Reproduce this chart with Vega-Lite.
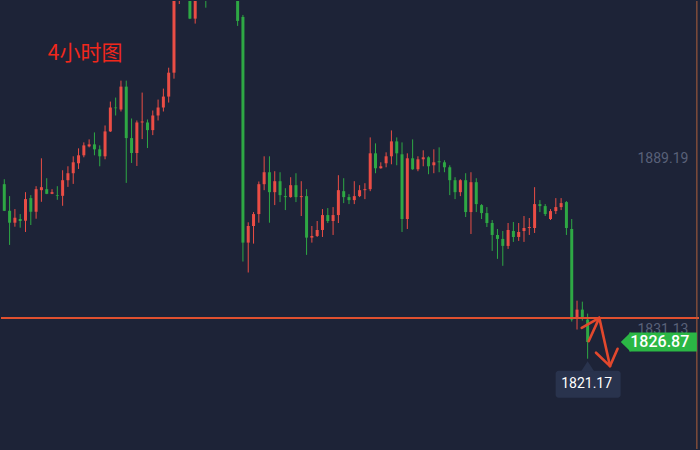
{
  "$schema": "https://vega.github.io/schema/vega-lite/v6.json",
  "width": 700,
  "height": 450,
  "padding": 0,
  "autosize": {"type": "fit", "contains": "padding"},
  "background": "#1d2337",
  "config": {"view": {"stroke": null}, "scale": {"continuousPadding": 0}},
  "datasets": {
    "candles": [
      {"i":0,"o":1880.70,"h":1882.40,"l":1871.53,"c":1871.63},
      {"i":1,"o":1871.63,"h":1876.63,"l":1859.99,"c":1867.56},
      {"i":2,"o":1867.56,"h":1872.21,"l":1866.20,"c":1869.26},
      {"i":3,"o":1868.82,"h":1870.51,"l":1865.86,"c":1868.14},
      {"i":4,"o":1868.24,"h":1877.98,"l":1864.40,"c":1875.61},
      {"i":5,"o":1875.95,"h":1876.97,"l":1866.78,"c":1871.30},
      {"i":6,"o":1871.30,"h":1880.02,"l":1868.92,"c":1879.00},
      {"i":7,"o":1878.66,"h":1889.53,"l":1874.69,"c":1879.68},
      {"i":8,"o":1879.00,"h":1882.74,"l":1877.30,"c":1877.41},
      {"i":9,"o":1877.41,"h":1879.00,"l":1877.30,"c":1877.98},
      {"i":10,"o":1876.97,"h":1880.02,"l":1875.37,"c":1876.73},
      {"i":11,"o":1876.73,"h":1885.45,"l":1873.33,"c":1882.06},
      {"i":12,"o":1882.06,"h":1886.81,"l":1879.78,"c":1884.44},
      {"i":13,"o":1884.44,"h":1890.21,"l":1880.80,"c":1888.17},
      {"i":14,"o":1887.83,"h":1892.93,"l":1885.90,"c":1890.55},
      {"i":15,"o":1890.55,"h":1894.96,"l":1889.87,"c":1893.94},
      {"i":16,"o":1893.60,"h":1895.98,"l":1893.26,"c":1894.28},
      {"i":17,"o":1894.28,"h":1898.36,"l":1890.55,"c":1892.59},
      {"i":18,"o":1892.59,"h":1893.94,"l":1886.81,"c":1890.21},
      {"i":19,"o":1890.21,"h":1900.73,"l":1889.19,"c":1898.70},
      {"i":20,"o":1898.70,"h":1908.88,"l":1898.50,"c":1906.85},
      {"i":21,"o":1906.85,"h":1910.24,"l":1904.13,"c":1906.61},
      {"i":22,"o":1906.17,"h":1916.02,"l":1905.49,"c":1913.98},
      {"i":23,"o":1913.98,"h":1916.02,"l":1881.14,"c":1896.42},
      {"i":24,"o":1896.42,"h":1903.11,"l":1887.93,"c":1891.33},
      {"i":25,"o":1891.33,"h":1902.43,"l":1886.92,"c":1901.75},
      {"i":26,"o":1901.75,"h":1911.94,"l":1896.08,"c":1902.09},
      {"i":27,"o":1901.75,"h":1902.77,"l":1893.03,"c":1899.14},
      {"i":28,"o":1899.14,"h":1905.83,"l":1897.44,"c":1904.13},
      {"i":29,"o":1904.13,"h":1909.56,"l":1902.43,"c":1906.85},
      {"i":30,"o":1906.85,"h":1913.30,"l":1905.49,"c":1910.58},
      {"i":31,"o":1910.58,"h":1920.43,"l":1908.54,"c":1918.73},
      {"i":32,"o":1918.73,"h":1953.00,"l":1916.69,"c":1950.50},
      {"i":33,"o":1946.00,"h":1955.00,"l":1942.16,"c":1952.00},
      {"i":34,"o":1957.00,"h":1959.00,"l":1947.00,"c":1950.00},
      {"i":35,"o":1950.00,"h":1952.00,"l":1937.00,"c":1937.17},
      {"i":36,"o":1937.17,"h":1951.00,"l":1935.47,"c":1948.00},
      {"i":37,"o":1948.00,"h":1956.00,"l":1945.00,"c":1953.00},
      {"i":38,"o":1952.00,"h":1955.00,"l":1940.90,"c":1944.00},
      {"i":39,"o":1945.00,"h":1958.00,"l":1944.00,"c":1955.00},
      {"i":40,"o":1955.00,"h":1963.00,"l":1952.00,"c":1960.00},
      {"i":41,"o":1960.00,"h":1964.00,"l":1953.00,"c":1956.00},
      {"i":42,"o":1956.00,"h":1959.00,"l":1949.00,"c":1952.00},
      {"i":43,"o":1952.00,"h":1955.00,"l":1946.00,"c":1949.00},
      {"i":44,"o":1949.00,"h":1952.00,"l":1934.69,"c":1936.39},
      {"i":45,"o":1937.75,"h":1938.43,"l":1854.32,"c":1860.77},
      {"i":46,"o":1860.77,"h":1867.70,"l":1850.58,"c":1866.44},
      {"i":47,"o":1866.44,"h":1871.19,"l":1860.43,"c":1870.51},
      {"i":48,"o":1870.51,"h":1881.62,"l":1867.56,"c":1880.70},
      {"i":49,"o":1880.70,"h":1890.21,"l":1878.66,"c":1884.78},
      {"i":50,"o":1884.78,"h":1890.21,"l":1867.56,"c":1877.98},
      {"i":51,"o":1877.98,"h":1885.12,"l":1873.57,"c":1881.72},
      {"i":52,"o":1881.72,"h":1884.78,"l":1874.59,"c":1876.97},
      {"i":53,"o":1876.63,"h":1879.34,"l":1871.87,"c":1876.29},
      {"i":54,"o":1876.29,"h":1883.08,"l":1876.10,"c":1880.36},
      {"i":55,"o":1880.36,"h":1884.44,"l":1874.59,"c":1876.29},
      {"i":56,"o":1876.29,"h":1881.72,"l":1869.84,"c":1876.63},
      {"i":57,"o":1876.63,"h":1879.00,"l":1856.59,"c":1862.47},
      {"i":58,"o":1862.47,"h":1866.44,"l":1860.77,"c":1863.04},
      {"i":59,"o":1863.04,"h":1868.14,"l":1862.70,"c":1865.08},
      {"i":60,"o":1865.08,"h":1872.21,"l":1862.70,"c":1870.17},
      {"i":61,"o":1870.17,"h":1872.55,"l":1867.46,"c":1868.14},
      {"i":62,"o":1868.14,"h":1872.89,"l":1863.38,"c":1870.17},
      {"i":63,"o":1870.17,"h":1883.76,"l":1867.46,"c":1878.66},
      {"i":64,"o":1878.32,"h":1882.74,"l":1874.25,"c":1876.29},
      {"i":65,"o":1876.29,"h":1877.31,"l":1873.91,"c":1875.27},
      {"i":66,"o":1875.27,"h":1881.72,"l":1873.91,"c":1876.63},
      {"i":67,"o":1876.63,"h":1880.36,"l":1876.29,"c":1878.66},
      {"i":68,"o":1878.66,"h":1881.04,"l":1875.61,"c":1879.00},
      {"i":69,"o":1879.00,"h":1896.66,"l":1878.32,"c":1891.23},
      {"i":70,"o":1891.23,"h":1894.62,"l":1884.44,"c":1886.13},
      {"i":71,"o":1886.13,"h":1888.17,"l":1886.00,"c":1886.81},
      {"i":72,"o":1887.83,"h":1891.57,"l":1886.47,"c":1890.21},
      {"i":73,"o":1890.21,"h":1899.04,"l":1887.49,"c":1895.30},
      {"i":74,"o":1895.30,"h":1896.66,"l":1887.15,"c":1891.23},
      {"i":75,"o":1890.89,"h":1894.96,"l":1864.40,"c":1868.82},
      {"i":76,"o":1868.82,"h":1891.23,"l":1865.42,"c":1889.53},
      {"i":77,"o":1889.53,"h":1895.98,"l":1885.60,"c":1885.79},
      {"i":78,"o":1885.79,"h":1890.21,"l":1885.12,"c":1889.19},
      {"i":79,"o":1889.19,"h":1892.25,"l":1886.81,"c":1889.87},
      {"i":80,"o":1889.87,"h":1890.21,"l":1884.10,"c":1886.81},
      {"i":81,"o":1887.15,"h":1892.59,"l":1884.44,"c":1888.17},
      {"i":82,"o":1888.51,"h":1893.26,"l":1884.78,"c":1888.17},
      {"i":83,"o":1888.17,"h":1888.85,"l":1884.78,"c":1886.47},
      {"i":84,"o":1886.47,"h":1887.15,"l":1876.97,"c":1882.06},
      {"i":85,"o":1882.06,"h":1883.08,"l":1875.61,"c":1877.98},
      {"i":86,"o":1877.98,"h":1882.40,"l":1876.63,"c":1882.06},
      {"i":87,"o":1882.06,"h":1884.44,"l":1869.50,"c":1871.19},
      {"i":88,"o":1871.19,"h":1884.78,"l":1863.72,"c":1881.38},
      {"i":89,"o":1881.38,"h":1882.74,"l":1871.19,"c":1873.91},
      {"i":90,"o":1873.57,"h":1873.91,"l":1868.82,"c":1870.85},
      {"i":91,"o":1870.85,"h":1872.89,"l":1866.10,"c":1867.46},
      {"i":92,"o":1867.46,"h":1868.48,"l":1857.95,"c":1863.38},
      {"i":93,"o":1863.38,"h":1865.42,"l":1855.23,"c":1862.03},
      {"i":94,"o":1862.03,"h":1864.74,"l":1852.86,"c":1859.65},
      {"i":95,"o":1859.65,"h":1867.46,"l":1858.63,"c":1865.08},
      {"i":96,"o":1864.74,"h":1867.80,"l":1861.01,"c":1862.70},
      {"i":97,"o":1862.70,"h":1867.46,"l":1861.35,"c":1864.40},
      {"i":98,"o":1864.74,"h":1869.84,"l":1861.01,"c":1865.76},
      {"i":99,"o":1865.76,"h":1869.16,"l":1863.38,"c":1866.10},
      {"i":100,"o":1865.76,"h":1879.68,"l":1864.06,"c":1873.91},
      {"i":101,"o":1873.91,"h":1875.27,"l":1871.19,"c":1873.23},
      {"i":102,"o":1873.23,"h":1873.91,"l":1869.84,"c":1870.51},
      {"i":103,"o":1868.82,"h":1872.21,"l":1868.48,"c":1871.53},
      {"i":104,"o":1871.53,"h":1875.95,"l":1870.51,"c":1872.89},
      {"i":105,"o":1872.89,"h":1875.95,"l":1871.87,"c":1874.25},
      {"i":106,"o":1874.59,"h":1874.93,"l":1863.38,"c":1865.76},
      {"i":107,"o":1865.42,"h":1868.82,"l":1833.84,"c":1834.52},
      {"i":108,"o":1834.86,"h":1840.97,"l":1831.13,"c":1837.92},
      {"i":109,"o":1837.92,"h":1840.63,"l":1834.18,"c":1834.86},
      {"i":110,"o":1834.52,"h":1836.56,"l":1821.17,"c":1826.87}
    ],
    "arrows": [
      {"x1":110.19,"y1":1827.15,"x2":112.20,"y2":1835.10},
      {"x1":108.88,"y1":1831.70,"x2":112.20,"y2":1835.10},
      {"x1":112.20,"y1":1835.10,"x2":114.22,"y2":1818.66},
      {"x1":111.58,"y1":1823.21,"x2":114.22,"y2":1818.66},
      {"x1":115.65,"y1":1824.57,"x2":114.22,"y2":1818.66}
    ]
  },
  "layer": [
    {
      "data": {"name": "candles"},
      "mark": {"type": "rule", "strokeWidth": 1, "clip": true},
      "encoding": {
        "x": {"field": "i", "type": "quantitative", "axis": null, "scale": {"domain": [-0.62, 131.0], "nice": false, "zero": false, "padding": 0}},
        "y": {"field": "l", "type": "quantitative", "axis": null, "scale": {"domain": [1790.38, 1943.18], "nice": false, "zero": false, "padding": 0}},
        "y2": {"field": "h"},
        "color": {"condition": {"test": "datum.c >= datum.o", "value": "#ea4d45"}, "value": "#2ea844"}
      }
    },
    {
      "data": {"name": "candles"},
      "mark": {"type": "bar", "width": 3, "clip": true},
      "encoding": {
        "x": {"field": "i", "type": "quantitative", "axis": null, "scale": {"domain": [-0.62, 131.0], "nice": false, "zero": false, "padding": 0}},
        "y": {"field": "o", "type": "quantitative", "axis": null, "scale": {"domain": [1790.38, 1943.18], "nice": false, "zero": false, "padding": 0}},
        "y2": {"field": "c"},
        "color": {"condition": {"test": "datum.c >= datum.o", "value": "#ea4d45"}, "value": "#2ea844"}
      }
    },
    {
      "data": {"values": [{"v": 1889.19}, {"v": 1831.13}]},
      "mark": {"type": "text", "align": "left", "baseline": "middle", "fontSize": 14, "font": "Roboto", "color": "#596179"},
      "encoding": {
        "x": {"datum": 119.4, "type": "quantitative", "scale": {"domain": [-0.62, 131.0], "nice": false, "zero": false, "padding": 0}},
        "y": {"field": "v", "type": "quantitative", "scale": {"domain": [1790.38, 1943.18], "nice": false, "zero": false, "padding": 0}},
        "text": {"field": "v", "type": "quantitative", "format": ".2f"}
      }
    },
    {
      "data": {"values": [{"p": 1835.1}]},
      "mark": {"type": "rule", "color": "#e0502f", "strokeWidth": 2},
      "encoding": {
        "y": {"field": "p", "type": "quantitative", "scale": {"domain": [1790.38, 1943.18], "nice": false, "zero": false, "padding": 0}}
      }
    },
    {
      "data": {"values": [{"x": 130.6}]},
      "mark": {"type": "rule", "color": "#b0603c", "strokeWidth": 1},
      "encoding": {
        "x": {"field": "x", "type": "quantitative", "scale": {"domain": [-0.62, 131.0], "nice": false, "zero": false, "padding": 0}}
      }
    },
    {
      "data": {"name": "arrows"},
      "mark": {"type": "rule", "color": "#e2482d", "strokeWidth": 2.6, "strokeCap": "round"},
      "encoding": {
        "x": {"field": "x1", "type": "quantitative", "scale": {"domain": [-0.62, 131.0], "nice": false, "zero": false, "padding": 0}},
        "x2": {"field": "x2"},
        "y": {"field": "y1", "type": "quantitative", "scale": {"domain": [1790.38, 1943.18], "nice": false, "zero": false, "padding": 0}},
        "y2": {"field": "y2"}
      }
    },
    {
      "data": {"values": [{"i": 110, "p": 1821.17, "t": "1821.17"}]},
      "layer": [
        {
          "mark": {"type": "rect", "color": "#29334d", "cornerRadius": 3, "xOffset": -32, "x2Offset": 33, "yOffset": 12, "y2Offset": 39},
          "encoding": {
            "x": {"field": "i", "type": "quantitative", "scale": {"domain": [-0.62, 131.0], "nice": false, "zero": false, "padding": 0}},
            "x2": {"field": "i"},
            "y": {"field": "p", "type": "quantitative", "scale": {"domain": [1790.38, 1943.18], "nice": false, "zero": false, "padding": 0}},
            "y2": {"field": "p"}
          }
        },
        {
          "mark": {"type": "point", "filled": true, "opacity": 1, "size": 400, "color": "#29334d", "strokeWidth": 0, "shape": "M -0.68 1.3 L 0 0.24 L 0.68 1.3 Z"},
          "encoding": {
            "x": {"field": "i", "type": "quantitative", "scale": {"domain": [-0.62, 131.0], "nice": false, "zero": false, "padding": 0}},
            "y": {"field": "p", "type": "quantitative", "scale": {"domain": [1790.38, 1943.18], "nice": false, "zero": false, "padding": 0}}
          }
        },
        {
          "mark": {"type": "text", "align": "center", "baseline": "middle", "dy": 25, "dx": -1, "fontSize": 14, "font": "Roboto", "color": "#ffffff"},
          "encoding": {
            "x": {"field": "i", "type": "quantitative", "scale": {"domain": [-0.62, 131.0], "nice": false, "zero": false, "padding": 0}},
            "y": {"field": "p", "type": "quantitative", "scale": {"domain": [1790.38, 1943.18], "nice": false, "zero": false, "padding": 0}},
            "text": {"field": "t"}
          }
        }
      ]
    },
    {
      "data": {"values": [{"a": 117.85, "b": 130.6, "tc": 123.6, "p": 1826.87, "t": "1826.87"}]},
      "layer": [
        {
          "mark": {"type": "rect", "color": "#2bb745", "yOffset": -9.5, "y2Offset": 9.5},
          "encoding": {
            "x": {"field": "a", "type": "quantitative", "scale": {"domain": [-0.62, 131.0], "nice": false, "zero": false, "padding": 0}},
            "x2": {"field": "b"},
            "y": {"field": "p", "type": "quantitative", "scale": {"domain": [1790.38, 1943.18], "nice": false, "zero": false, "padding": 0}},
            "y2": {"field": "p"}
          }
        },
        {
          "mark": {"type": "point", "filled": true, "opacity": 1, "size": 400, "color": "#2bb745", "strokeWidth": 0, "shape": "M 0.15 -0.97 L -0.85 0 L 0.15 0.97 Z"},
          "encoding": {
            "x": {"field": "a", "type": "quantitative", "scale": {"domain": [-0.62, 131.0], "nice": false, "zero": false, "padding": 0}},
            "y": {"field": "p", "type": "quantitative", "scale": {"domain": [1790.38, 1943.18], "nice": false, "zero": false, "padding": 0}}
          }
        },
        {
          "mark": {"type": "text", "align": "center", "baseline": "middle", "fontSize": 16, "fontWeight": 500, "font": "Roboto", "color": "#ffffff"},
          "encoding": {
            "x": {"field": "tc", "type": "quantitative", "scale": {"domain": [-0.62, 131.0], "nice": false, "zero": false, "padding": 0}},
            "y": {"field": "p", "type": "quantitative", "scale": {"domain": [1790.38, 1943.18], "nice": false, "zero": false, "padding": 0}},
            "text": {"field": "t"}
          }
        }
      ]
    },
    {
      "data": {"values": [{"t": "4小时图", "x": 8.2, "p": 1925.2}]},
      "mark": {"type": "text", "align": "left", "baseline": "middle", "fontSize": 21, "font": "Noto Sans CJK SC", "color": "#f0281c"},
      "encoding": {
        "x": {"field": "x", "type": "quantitative", "scale": {"domain": [-0.62, 131.0], "nice": false, "zero": false, "padding": 0}},
        "y": {"field": "p", "type": "quantitative", "scale": {"domain": [1790.38, 1943.18], "nice": false, "zero": false, "padding": 0}},
        "text": {"field": "t"}
      }
    }
  ]
}
